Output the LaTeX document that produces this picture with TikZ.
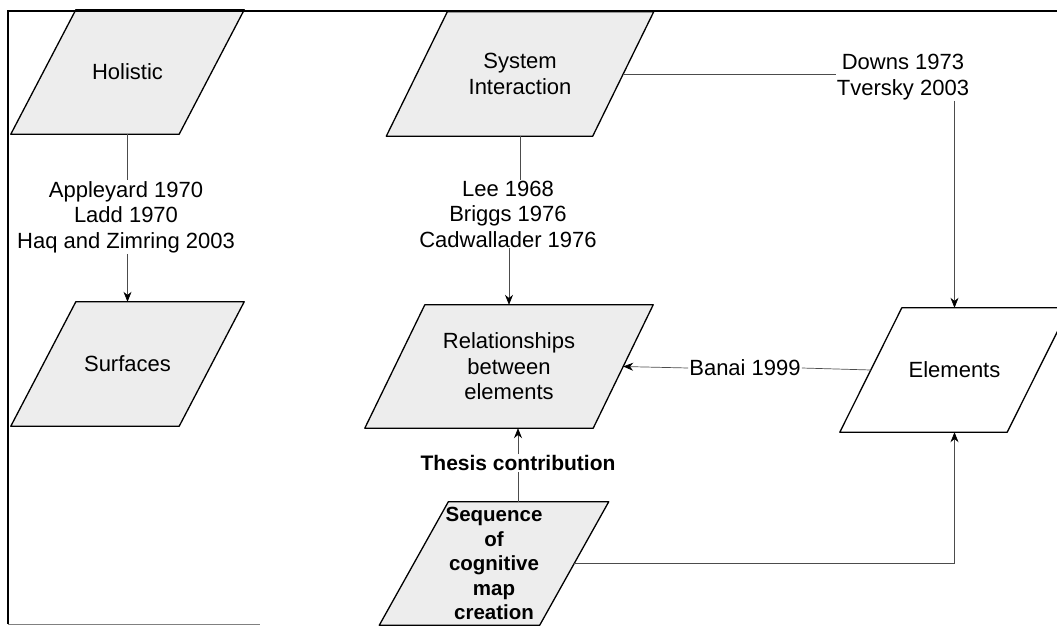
\documentclass[tikz,border=0pt]{standalone}
\usepackage{fontspec}
\setmainfont{Liberation Sans}
\usetikzlibrary{arrows.meta,backgrounds}
\tikzset{
  lbl/.style={align=center, inner sep=1pt, font=\fontsize{22}{25.5}\selectfont},
  box/.style={align=center, inner sep=0pt, font=\fontsize{22}{25.5}\selectfont},
  boldbox/.style={align=center, inner sep=0pt, font=\fontsize{20.5}{24.5}\selectfont\bfseries},
  conn/.style={draw=black!70, line width=0.7pt},
  arr/.style={conn, -{Stealth[length=10pt,width=8pt,color=black]}},
  pg/.style={draw=black, line width=1.3pt, line join=round},
  shade/.style={fill=black!7},
  frameline/.style={draw=black, line width=1.2pt},
}
\newcommand{\plgram}[3]{\path[pg,#3] ([xshift=-#2]#1.south west) -- ([xshift=-#2]#1.south east) -- ([xshift=#2]#1.north east) -- ([xshift=#2]#1.north west) -- cycle;}
\begin{document}
\begin{tikzpicture}[x=1pt,y=-1pt]
\useasboundingbox (0,0) rectangle (1057,626);
\clip (0,0) rectangle (1057,626);
% frame
\draw[frameline] (1057,11) -- (8,11) -- (8,624);
\draw[draw=black!50, line width=0.8pt] (8,624) -- (260,624);
% nodes
\node[box, minimum width=168pt, minimum height=124pt] (hol) at (127.5,72) {Holistic};
\node[box, minimum width=168pt, minimum height=124pt] (surf) at (127.5,364) {Surfaces};
\node[box, minimum width=206pt, minimum height=124pt] (sys) at (520,74) {System\\Interaction};
\node[box, minimum width=228pt, minimum height=123pt] (rel) at (509,366.5) {Relationships\\between\\elements};
\node[box, minimum width=167pt, minimum height=124pt] (elem) at (954.5,370) {Elements};
\node[boldbox, minimum width=160pt, minimum height=123pt] (seq) at (494,563.5) {Sequence\\of\\cognitive\\map\\creation};
\node[lbl] (lab1) at (126,217) {Appleyard 1970\\Ladd 1970\\Haq and Zimring 2003};
\node[lbl] (lab2) at (508,214) {Lee 1968\\Briggs 1976\\Cadwallader 1976};
\node[lbl] (lab3) at (903,77) {Downs 1973\\Tversky 2003};
\node[lbl] (lab4) at (745,368) {Banai 1999};
\node[lbl, font=\fontsize{21}{25}\selectfont\bfseries] (thesis) at (518,463) {Thesis contribution};
\begin{scope}[on background layer]
\plgram{hol}{32.5}{shade}
\plgram{surf}{32.5}{shade}
\plgram{sys}{30.5}{shade}
\plgram{rel}{30}{shade}
\plgram{elem}{31}{fill=white}
\plgram{seq}{34.5}{shade}
\end{scope}
% connectors
\draw[conn] (hol.south) -- (hol.south |- lab1.north);
\draw[arr] (lab1.south -| surf.north) -- (surf.north);
\draw[conn] (sys.south) -- (sys.south |- lab2.north);
\draw[arr] (lab2.south -| rel.north) -- (rel.north);
\draw[conn] (sys.east) -- (sys.east -| lab3.west);
\draw[arr] (lab3.south -| elem.north) -- (elem.north);
\draw[conn] (elem.west) -- (lab4.east);
\draw[arr] (lab4.west) -- (rel.east);
\draw[arr] (thesis.north) -- (thesis.north |- rel.south);
\draw[conn] (thesis.south) -- (thesis.south |- seq.north);
\draw[arr] (seq.east) -- (seq.east -| elem.south) -- (elem.south);
\end{tikzpicture}
\end{document}
